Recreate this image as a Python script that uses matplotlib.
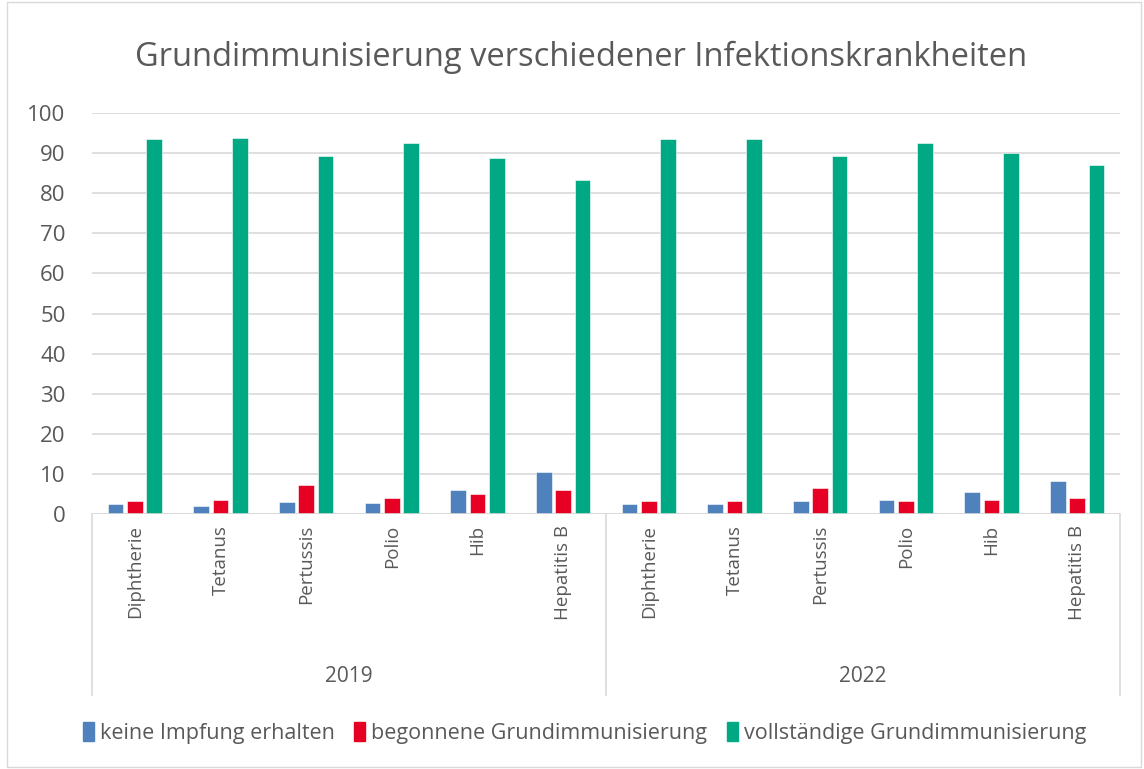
import matplotlib.pyplot as plt
import numpy as np
from matplotlib.patches import Rectangle
from matplotlib.lines import Line2D

# data
years = ["2019", "2022"]
diseases = ["Diphtherie", "Tetanus", "Pertussis", "Polio", "Hib", "Hepatitis B"]
keine = [2.4, 2.0, 3.0, 2.7, 5.9, 10.5,
         2.4, 2.4, 3.2, 3.6, 5.6, 8.2]
begonnen = [3.2, 3.6, 7.3, 4.0, 5.0, 5.9,
            3.2, 3.2, 6.5, 3.2, 3.6, 4.0]
vollstaendig = [93.5, 93.9, 89.3, 92.5, 88.7, 83.2,
                93.5, 93.5, 89.3, 92.5, 90.0, 87.1]
series_names = ["keine Impfung erhalten", "begonnene Grundimmunisierung",
                "vollständige Grundimmunisierung"]
colors = ["#4F81BD", "#E60023", "#00A884"]

plt.rcParams['font.family'] = ['Open Sans', 'DejaVu Sans']
txt = "#595959"

fig = plt.figure(figsize=(11.44, 7.69), dpi=100)
ax = fig.add_axes([0.0804, 0.3316, 0.8986, 0.5214])

n = len(keine)
x = np.arange(n)
w = 0.182
off = 0.225
for i, vals in enumerate([keine, begonnen, vollstaendig]):
    ax.bar(x + (i - 1) * off, vals, width=w, color=colors[i],
           edgecolor="white", linewidth=0.4, zorder=3)

ax.set_xlim(-0.5, n - 0.5)
ax.set_ylim(0, 100)
ax.set_yticks(range(0, 101, 10))
ax.tick_params(axis="y", length=0, labelsize=16, labelcolor=txt, pad=19)
ax.tick_params(axis="x", length=0)
ax.set_xticks(x)
ax.set_xticklabels([])
ax.grid(axis="y", color="#D9D9D9", linewidth=1.2, zorder=0)
for s in ax.spines.values():
    s.set_visible(False)
ax.axhline(0, color="#D9D9D9", linewidth=1.2, zorder=4)

trans = ax.get_xaxis_transform()
labels = diseases * len(years)
for xi, lab in zip(x, labels):
    ax.text(xi, -0.027, lab, transform=trans, rotation=90, ha="center",
            va="top", fontsize=13.5, color=txt)

# group separators and year labels
for b in [-0.5, 5.5, 11.5]:
    ax.add_line(Line2D([b, b], [0, -0.451], transform=trans, color="#D9D9D9",
                       linewidth=1.2, clip_on=False))
for g, yr in enumerate(years):
    ax.text(g * 6 + 2.5, -0.405, yr, transform=trans, ha="center",
            va="center", fontsize=15, color=txt)

fig.text(0.508, 0.926, "Grundimmunisierung verschiedener Infektionskrankheiten",
         ha="center", va="center", fontsize=23.5, color=txt)

handles = [Rectangle((0, 0), 1, 1, color=c) for c in colors]
fig.legend(handles, series_names, loc="center", bbox_to_anchor=(0.511, 0.047),
           ncol=3, frameon=False, fontsize=15.5, labelcolor=txt,
           handlelength=0.5, handleheight=1.0, handletextpad=0.3,
           columnspacing=0.9)

fig.add_artist(Rectangle((0.006, 0.002), 0.991, 0.996, transform=fig.transFigure,
                         fill=False, edgecolor="#D9D9D9", linewidth=1))

fig.savefig("out.png", dpi=100)
